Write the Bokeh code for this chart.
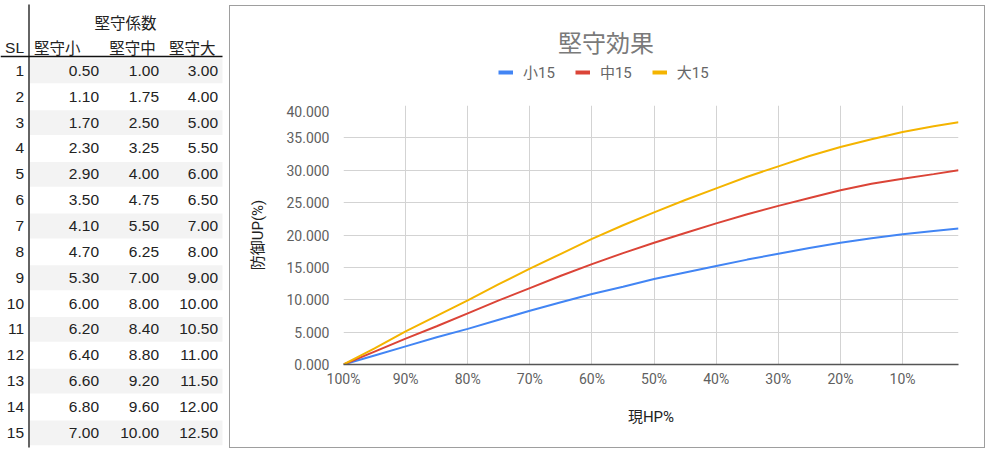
from bokeh.plotting import figure
from bokeh.layouts import row, column
from bokeh.models import Range1d, FixedTicker, Legend, LegendItem, NumeralTickFormatter, ColumnDataSource
from bokeh.core.properties import value
from bokeh.embed import file_html
from bokeh.resources import INLINE

# ---------------- table data ----------------
sl = list(range(1, 16))
small_coef = [0.50, 1.10, 1.70, 2.30, 2.90, 3.50, 4.10, 4.70, 5.30, 6.00, 6.20, 6.40, 6.60, 6.80, 7.00]
mid_coef = [1.00, 1.75, 2.50, 3.25, 4.00, 4.75, 5.50, 6.25, 7.00, 8.00, 8.40, 8.80, 9.20, 9.60, 10.00]
large_coef = [3.00, 4.00, 5.00, 5.50, 6.00, 6.50, 7.00, 8.00, 9.00, 10.00, 10.50, 11.00, 11.50, 12.00, 12.50]
table_title = "堅守係数"
col_headers = ["SL", "堅守小", "堅守中", "堅守大"]

# ---------------- chart data ----------------
hp = [100, 95, 90, 85, 80, 75, 70, 65, 60, 55, 50, 45, 40, 35, 30, 25, 20, 15, 10, 5, 1]
small15 = [0, 1.4, 2.8, 4.2, 5.5, 6.9, 8.3, 9.6, 10.9, 12.0, 13.2, 14.2, 15.2, 16.2, 17.1, 18.0, 18.8, 19.5, 20.1, 20.6, 21.0]
mid15 = [0, 2.0, 4.0, 5.9, 7.9, 9.9, 11.8, 13.7, 15.5, 17.2, 18.8, 20.3, 21.8, 23.2, 24.5, 25.7, 26.9, 27.9, 28.7, 29.4, 30.0]
large15 = [0, 2.5, 5.1, 7.5, 9.9, 12.4, 14.8, 17.1, 19.4, 21.5, 23.5, 25.4, 27.2, 29.0, 30.6, 32.2, 33.6, 34.8, 35.9, 36.8, 37.4]
series_names = ["小15", "中15", "大15"]
series_colors = ["#4285F4", "#DB4437", "#F4B400"]
chart_title = "堅守効果"
x_title = "現HP%"
y_title = "防御UP(%)"
x_ticks = [100, 90, 80, 70, 60, 50, 40, 30, 20, 10]
y_ticks = [0, 5, 10, 15, 20, 25, 30, 35, 40]

LATIN = "Liberation Sans"
CJK = "Noto Sans CJK JP"
CHART_FONT = "Roboto, 'Noto Sans CJK JP'"


def bare(fig):
    fig.grid.visible = False
    fig.outline_line_color = None
    fig.background_fill_color = "white"
    fig.border_fill_color = "white"
    try:
        fig.frame_align = False
    except Exception:
        pass


# ---------------- table figure ----------------
T_W, T_H = 229, 450
t = figure(width=T_W, height=T_H, x_range=Range1d(0, T_W), y_range=Range1d(T_H, 0),
           x_axis_type=None, y_axis_type=None, output_backend="svg",
           toolbar_location=None, min_border=0)
bare(t)

ROW0, RH = 57.5, 25.85
n = len(sl)
tops = [ROW0 + i * RH for i in range(n)]
centers = [ROW0 + (i + 0.5) * RH for i in range(n)]
stripe_idx = [i for i in range(n) if i % 2 == 0]
t.quad(left=29.5, right=222, top=[tops[i] + 0.5 for i in stripe_idx],
       bottom=[tops[i] + RH - 0.5 for i in stripe_idx],
       fill_color="#f3f3f3", line_color=None)

t.segment(x0=[28.5, 0], y0=[4, 56], x1=[28.5, 222], y1=[447, 56],
          line_color="#111111", line_width=1.3)

num_style = dict(text_baseline="middle", text_align="right", text_font=value(LATIN),
                 text_font_size="15.5px", text_color="#222222")
col_right = [23.5, 98.5, 158.5, 217.5]
t.text(x=[col_right[0]] * n, y=centers, text=[str(s) for s in sl], **num_style)
for xr, vals in zip(col_right[1:], [small_coef, mid_coef, large_coef]):
    t.text(x=[xr] * n, y=centers, text=[f"{v:.2f}" for v in vals], **num_style)

hdr_style = dict(text_baseline="middle", text_font=value(CJK), text_font_size="15.5px",
                 text_color="#222222")
t.text(x=[125], y=[21.7], text=[table_title], text_align="center", **hdr_style)
t.text(x=[23.5], y=[46.7], text=[col_headers[0]], text_align="right",
       text_baseline="middle", text_font=value(LATIN), text_font_size="15.5px",
       text_color="#222222")
t.text(x=[56.7, 132, 191.7], y=[46.7] * 3, text=col_headers[1:], text_align="center", **hdr_style)

# ---------------- chart header (title + legend) ----------------
C_W, HEAD_H, C_H = 754, 99, 342
h = figure(width=C_W, height=HEAD_H, x_range=Range1d(0, C_W), y_range=Range1d(HEAD_H, 0),
           x_axis_type=None, y_axis_type=None, output_backend="svg",
           toolbar_location=None, min_border=0)
bare(h)
h.text(x=[375.5], y=[37], text=[chart_title], text_align="center", text_baseline="middle",
       text_font=value(CHART_FONT), text_font_size="24px", text_color="#7a7a7a")

items = []
for name, color in zip(series_names, series_colors):
    r = h.line(x=[float("nan")], y=[float("nan")], line_color=color, line_width=4)
    items.append(LegendItem(label=name, renderers=[r]))
legend = Legend(items=items, orientation="horizontal", location=(268, 23),
                glyph_width=15, glyph_height=14, label_height=14, label_standoff=10,
                spacing=20, padding=0, margin=0, border_line_color=None,
                background_fill_alpha=0, label_text_font=CHART_FONT,
                label_text_font_size="15px", label_text_color="#666666")
h.add_layout(legend, "center")

# ---------------- chart figure ----------------
p = figure(width=C_W, height=C_H, x_range=Range1d(100, 1), y_range=Range1d(0, 40),
           output_backend="svg", toolbar_location=None,
           min_border_left=113, min_border_right=26, min_border_top=0, min_border_bottom=83)
p.outline_line_color = None
p.background_fill_color = "white"
p.border_fill_color = "white"
try:
    p.frame_align = False
except Exception:
    pass

src = ColumnDataSource(dict(hp=hp, s=small15, m=mid15, l=large15))
for col, color in zip(["s", "m", "l"], series_colors):
    p.line("hp", col, source=src, line_color=color, line_width=2)

p.xgrid.ticker = FixedTicker(ticks=x_ticks)
p.ygrid.ticker = FixedTicker(ticks=y_ticks)
p.grid.grid_line_color = "#d3d3d3"
p.grid.grid_line_width = 1

p.xaxis.ticker = FixedTicker(ticks=x_ticks)
p.xaxis.major_label_overrides = {v: f"{v}%" for v in x_ticks}
p.yaxis.ticker = FixedTicker(ticks=y_ticks)
p.yaxis.formatter = NumeralTickFormatter(format="0.000")

for ax in p.axis:
    ax.major_tick_line_color = None
    ax.minor_tick_line_color = None
    ax.major_label_text_font = CHART_FONT
    ax.major_label_text_font_size = "14px"
    ax.major_label_text_color = "#5f5f5f"
    ax.axis_label_text_font = CHART_FONT
    ax.axis_label_text_font_size = "15px"
    ax.axis_label_text_font_style = "normal"
    ax.axis_label_text_color = "#222222"

p.yaxis.major_label_standoff = 8
p.xaxis.major_label_standoff = 0
p.yaxis.axis_line_color = None
p.xaxis.axis_line_color = "#555555"
p.xaxis.axis_line_width = 1.5
p.xaxis.axis_label = x_title
p.yaxis.axis_label = y_title
p.xaxis.axis_label_standoff = 18
p.yaxis.axis_label_standoff = 16

chart_box = column(h, p, spacing=0)
chart_box.margin = (5, 0, 0, 0)
chart_box.styles = {"border": "1px solid #9e9e9e"}

layout = row(t, chart_box)
open("out.html", "w").write(file_html(layout, INLINE))
